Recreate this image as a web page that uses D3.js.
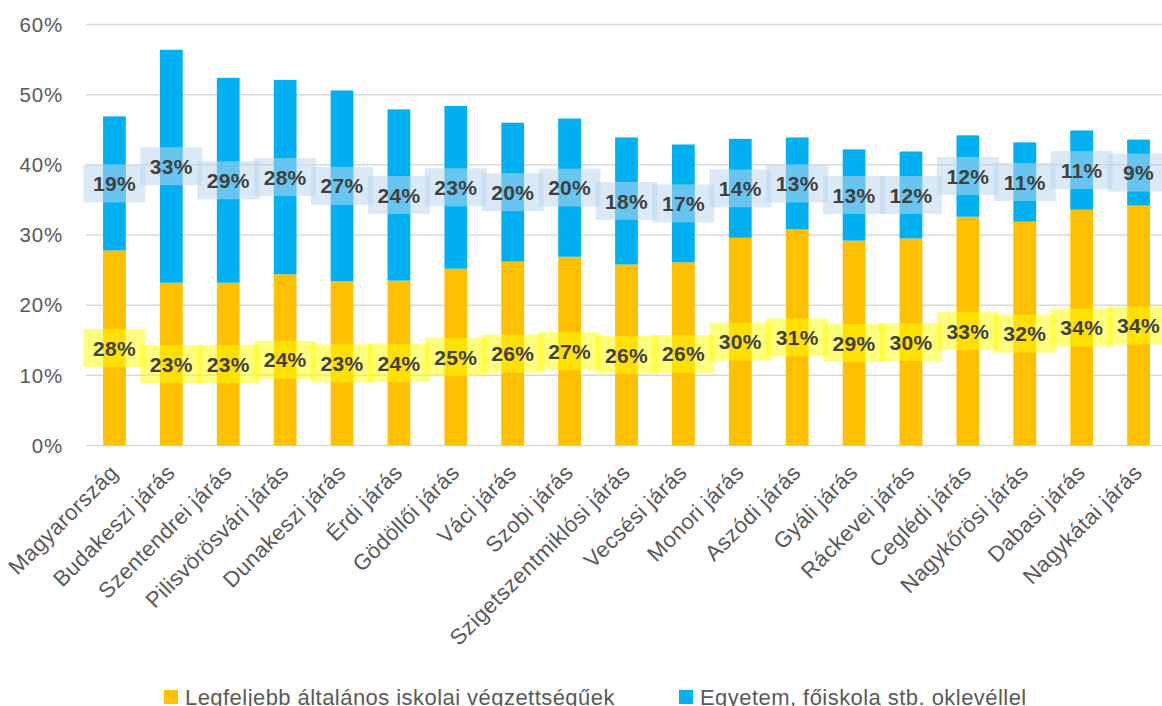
<!DOCTYPE html>
<html><head><meta charset="utf-8">
<script src="https://cdn.jsdelivr.net/npm/d3@7"></script>
<style>body{margin:0;background:#fff}svg{display:block}text{font-family:"Liberation Sans",Arial,sans-serif}</style>
</head><body><svg id="c" width="1162" height="706"></svg>
<script>
const categories = ["Magyarország","Budakeszi járás","Szentendrei járás","Pilisvörösvári járás","Dunakeszi járás","Érdi járás","Gödöllői járás","Váci járás","Szobi járás","Szigetszentmiklósi járás","Vecsési járás","Monori járás","Aszódi járás","Gyáli járás","Ráckevei járás","Ceglédi járás","Nagykőrösi járás","Dabasi járás","Nagykátai járás"];
const lowEdu = [27.8,23.2,23.2,24.4,23.4,23.5,25.2,26.2,26.9,25.8,26.1,29.6,30.8,29.2,29.5,32.6,31.9,33.6,34.2];
const highEdu = [19.1,33.2,29.2,27.7,27.2,24.4,23.2,19.8,19.7,18.1,16.8,14.1,13.1,13.0,12.4,11.6,11.3,11.3,9.4];
const yTicks = [0,10,20,30,40,50,60];
const seriesNames = ["Legfeljebb általános iskolai végzettségűek","Egyetem, főiskola stb. oklevéllel"];
const colors = ["#ffc000","#00b0f0"];

const svg = d3.select("#c");
const x = d3.scaleBand().domain(categories).range([86,1167]).paddingInner(0.6).paddingOuter(0.3);
const y = d3.scaleLinear().domain([0,60]).range([445.5,24.5]);

svg.append("g").selectAll("line").data(yTicks).join("line")
  .attr("x1",86).attr("x2",1162).attr("y1",d=>y(d)).attr("y2",d=>y(d))
  .attr("stroke","#d9d9d9").attr("stroke-width",1.5);
svg.append("g").selectAll("text").data(yTicks).join("text")
  .attr("x",63).attr("y",d=>y(d)).attr("dy","0.35em").attr("text-anchor","end")
  .attr("font-size",20.5).attr("letter-spacing",0.8).attr("fill","#595959").text(d=>d+"%");

const stacked = d3.stack().keys([0,1]).value((d,k)=>d[k])(categories.map((c,i)=>[lowEdu[i],highEdu[i]]));
const bw = x.bandwidth();
stacked.forEach((s,k)=>{
  svg.append("g").selectAll("rect").data(s).join("rect")
    .attr("x",(d,i)=>x(categories[i])).attr("width",bw)
    .attr("y",d=>y(d[1])).attr("height",d=>y(d[0])-y(d[1]))
    .attr("fill",colors[k]);
});
const boxFill = ["rgba(255,255,0,0.5)","rgba(189,215,238,0.55)"];
stacked.forEach((s,k)=>{
  const g = svg.append("g");
  s.forEach((d,i)=>{
    const cx = x(categories[i])+bw/2, cy = y((d[0]+d[1])/2);
    g.append("rect").attr("x",cx-31).attr("y",cy-19).attr("width",62).attr("height",38).attr("fill",boxFill[k]);
  });
  s.forEach((d,i)=>{
    const cx = x(categories[i])+bw/2, cy = y((d[0]+d[1])/2);
    const v = k===0?lowEdu[i]:highEdu[i];
    g.append("text").attr("x",cx).attr("y",cy).attr("dy","0.36em").attr("text-anchor","middle")
      .attr("font-size",21).attr("font-weight","bold").attr("letter-spacing",0.3).attr("fill","#404040").text(Math.round(v)+"%");
  });
});
svg.append("g").selectAll("text").data(categories).join("text")
  .attr("transform",d=>`translate(${x(d)+bw/2+5},${474}) rotate(-45)`)
  .attr("text-anchor","end").attr("font-size",22).attr("letter-spacing",0.4).attr("fill","#595959").text(d=>d);
const leg = [[164,seriesNames[0]],[679,seriesNames[1]]];
leg.forEach(([lx,t],k)=>{
  svg.append("rect").attr("x",lx).attr("y",690).attr("width",14).attr("height",14).attr("fill",colors[k]);
  svg.append("text").attr("x",lx+21).attr("y",705).attr("font-size",22).attr("letter-spacing",0.45).attr("fill","#595959").text(t);
});
</script></body></html>
